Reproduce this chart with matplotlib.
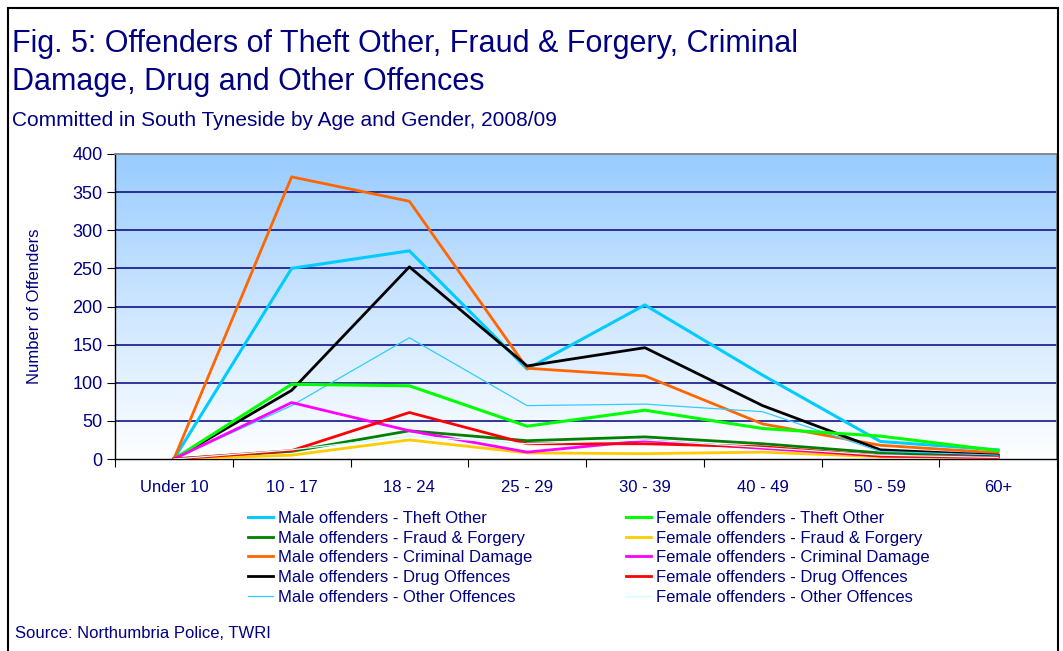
import numpy as np
import matplotlib
matplotlib.use("Agg")
import matplotlib.pyplot as plt
from matplotlib import font_manager
from matplotlib.colors import LinearSegmentedColormap

# data (number of offenders by age band)
age_bands = ["Under 10", "10 - 17", "18 - 24", "25 - 29", "30 - 39", "40 - 49", "50 - 59", "60+"]

male_theft = [0, 250, 273, 118, 202, 110, 23, 12]
male_fraud = [0, 10, 37, 24, 29, 20, 8, 4]
male_damage = [0, 370, 338, 119, 109, 46, 18, 8]
male_drug = [0, 90, 252, 122, 146, 70, 12, 5]
male_other = [0, 70, 159, 70, 72, 62, 10, 5]

female_theft = [0, 98, 96, 43, 64, 40, 30, 11]
female_fraud = [0, 5, 25, 8, 7, 9, 3, 2]
female_damage = [0, 74, 37, 9, 24, 14, 4, 2]
female_drug = [0, 11, 61, 20, 20, 16, 4, 2]
female_other = [0, 12, 30, 20, 25, 15, 5, 2]

names = [f.name for f in font_manager.fontManager.ttflist]
font = "Liberation Sans Narrow" if "Liberation Sans Narrow" in names else "Liberation Sans"
plt.rcParams["font.family"] = [font, "DejaVu Sans"]

navy = "#000080"

fig = plt.figure(figsize=(10.63, 6.51), dpi=100)
ax = fig.add_axes([115 / 1063, 1 - 459 / 651, (1057 - 115) / 1063, (459 - 154) / 651])

x = np.arange(len(age_bands))

male = [
    (male_theft, "Male offenders - Theft Other", "#00ccff", 2.2),
    (male_fraud, "Male offenders - Fraud & Forgery", "#008000", 2.0),
    (male_damage, "Male offenders - Criminal Damage", "#ff6600", 2.0),
    (male_drug, "Male offenders - Drug Offences", "#000000", 2.0),
    (male_other, "Male offenders - Other Offences", "#33ccff", 0.9),
]
female = [
    (female_theft, "Female offenders - Theft Other", "#00ff00", 2.2),
    (female_fraud, "Female offenders - Fraud & Forgery", "#ffcc00", 2.0),
    (female_damage, "Female offenders - Criminal Damage", "#ff00ff", 2.0),
    (female_drug, "Female offenders - Drug Offences", "#ff0000", 2.0),
    (female_other, "Female offenders - Other Offences", "#ccffff", 0.9),
]

male_lines = []
for vals, label, col, lw in male:
    ln, = ax.plot(x, vals, color=col, lw=lw, label=label, zorder=3)
    male_lines.append(ln)
female_lines = []
for vals, label, col, lw in female:
    ln, = ax.plot(x, vals, color=col, lw=lw, label=label, zorder=3)
    female_lines.append(ln)

ax.set_xlim(-0.5, len(age_bands) - 0.5)
ax.set_ylim(0, 400)

# gradient background
cmap = LinearSegmentedColormap.from_list("bg", ["#ffffff", "#99ccff"])
grad = np.linspace(0, 1, 256).reshape(-1, 1)
ax.imshow(grad, cmap=cmap, aspect="auto", origin="lower",
          extent=[-0.5, len(age_bands) - 0.5, 0, 400], zorder=0)

ax.set_yticks(np.arange(0, 401, 50))
for yv in range(50, 400, 50):
    ax.axhline(yv, color=navy, lw=1.1, zorder=1)

ax.set_xticks(np.arange(-0.5, len(age_bands)), minor=False)
ax.set_xticklabels([])
ax.set_xticks(x, minor=True)
ax.set_xticklabels(age_bands, minor=True)
ax.tick_params(axis="x", which="major", length=6, direction="out", color="black")
ax.tick_params(axis="x", which="minor", length=0, pad=15, labelsize=12, labelcolor=navy)
ax.tick_params(axis="y", length=6, direction="out", labelsize=13, labelcolor=navy, pad=3)

for s in ["top", "right"]:
    ax.spines[s].set_color("#808080")
    ax.spines[s].set_linewidth(1.3)
for s in ["left", "bottom"]:
    ax.spines[s].set_color("black")
    ax.spines[s].set_linewidth(1.0)

ax.set_ylabel("Number of Offenders", fontsize=12, color=navy, labelpad=22)

fig.text(12 / 1063, 1 - 44 / 651, "Fig. 5: Offenders of Theft Other, Fraud & Forgery, Criminal",
         fontsize=22, color=navy, va="center")
fig.text(12 / 1063, 1 - 82 / 651, "Damage, Drug and Other Offences",
         fontsize=22, color=navy, va="center")
fig.text(12 / 1063, 1 - 120 / 651, "Committed in South Tyneside by Age and Gender, 2008/09",
         fontsize=15, color=navy, va="center")
fig.text(15 / 1063, 1 - 634 / 651, "Source: Northumbria Police, TWRI",
         fontsize=12, color=navy, va="center")

leg_kw = dict(frameon=False, fontsize=12, handlelength=1.5, handletextpad=0.3,
              labelspacing=0.28, borderaxespad=0, borderpad=0, labelcolor=navy)
fig.legend(handles=male_lines, loc="upper left",
           bbox_to_anchor=(248 / 1063, 1 - 511 / 651), **leg_kw)
fig.legend(handles=female_lines, loc="upper left",
           bbox_to_anchor=(626 / 1063, 1 - 511 / 651), **leg_kw)

# outer frame of the chart
frame = plt.Rectangle((8 / 1063, -0.01), (1058 - 8) / 1063, 1 - 8 / 651 + 0.01,
                      transform=fig.transFigure, fill=False, edgecolor="black", lw=1.5)
fig.patches.append(frame)

fig.savefig("out.png", dpi=100)
